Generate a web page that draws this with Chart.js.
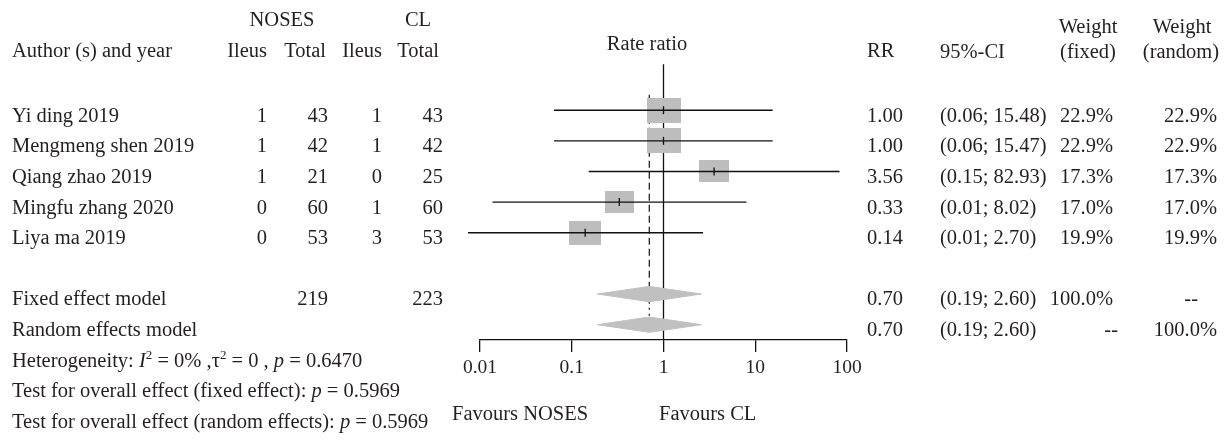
<!DOCTYPE html>
<html><head><meta charset="utf-8">
<script src="https://cdn.jsdelivr.net/npm/chart.js@4/dist/chart.umd.min.js"></script>
<style>html,body{margin:0;padding:0;background:#fff}#wrap{width:1230px;height:440px;position:relative}</style>
</head><body><div id="wrap"><canvas id="c"></canvas></div>
<script>
// ---------- data ----------
const studies = ['Yi ding 2019','Mengmeng shen 2019','Qiang zhao 2019','Mingfu zhang 2020','Liya ma 2019'];
const nosesIleus = [1,1,1,0,0];
const nosesTotal = [43,42,21,60,53];
const clIleus = [1,1,0,1,3];
const clTotal = [43,42,25,60,53];
const rr = [1.00,1.00,3.56,0.33,0.14];
const ciLow = [0.064,0.064,0.153,0.0137,0.0074];
const ciHigh = [15.48,15.47,82.93,8.02,2.70];
const weightFixed = [22.9,22.9,17.3,17.0,19.9];
const weightRandom = [22.9,22.9,17.3,17.0,19.9];
const pooledNames = ['Fixed effect model','Random effects model'];
const pooledRR = [0.70,0.70];
const pooledLow = [0.19,0.19];
const pooledHigh = [2.60,2.60];
const pooledWFixed = ['100.0%','--'];
const pooledWRandom = ['--','100.0%'];
const totalNoses = 219;
const totalCL = 223;
const hetI2 = '0%';
const hetTau2 = '0';
const hetP = 0.6470;
const pFixed = 0.5969;
const pRandom = 0.5969;
const tickValues = [0.01,0.1,1,10,100];

// ---------- layout / style ----------
const TXT = '#231f20';
const F = '20.5px "Liberation Serif"';
const FI = 'italic 20.5px "Liberation Serif"';
const FS = '13px "Liberation Serif"';
const BOX = '#bdbdbd';
const DIA = '#c0c0c0';
const ROW_TOP = -3.4, ROW_BOTTOM = 7.5;
const TEXT_DY = 6;
const DIA_H = 0.25;
const COL = {name:12, ileus1:267, total1:328, ileus2:382, total2:443, rr:867, ci:940, wf:1113, wr:1217};

function boxCanvas(w){
  const c = document.createElement('canvas');
  c.width = Math.round(7.1*Math.sqrt(w));
  c.height = Math.round(5.3*Math.sqrt(w));
  const g = c.getContext('2d'); g.fillStyle = BOX; g.fillRect(0,0,c.width,c.height);
  return c;
}

const datasets = [];
// null-effect reference line
datasets.push({data:[{x:1,y:-1.5},{x:1,y:ROW_BOTTOM}], borderColor:'#111', borderWidth:1.3, pointRadius:0, clip:false, order:9});
// fixed effect (dashed) and random effect (dotted) lines
datasets.push({data:[{x:pooledRR[0],y:-0.5},{x:pooledRR[0],y:studies.length+1-DIA_H}], borderColor:'#111', borderWidth:1.2, borderDash:[7,4], pointRadius:0, order:8});
datasets.push({data:[{x:pooledRR[1],y:studies.length+1+DIA_H},{x:pooledRR[1],y:studies.length+2-DIA_H}], borderColor:'#111', borderWidth:1.2, borderDash:[2,4], pointRadius:0, order:8});
// boxes
datasets.push({data:rr.map((v,i)=>({x:v,y:i})), showLine:false, pointStyle:weightFixed.map(boxCanvas), pointRadius:5, order:6});
// diamonds
pooledRR.forEach((v,k)=>{
  const r = studies.length+1+k;
  datasets.push({data:[{x:pooledLow[k],y:r},{x:v,y:r-DIA_H},{x:pooledHigh[k],y:r},{x:v,y:r+DIA_H},{x:pooledLow[k],y:r}],
    borderColor:DIA, borderWidth:1, backgroundColor:DIA, fill:'shape', pointRadius:0, tension:0, order:6});
});
// CI lines
rr.forEach((v,i)=>{
  datasets.push({data:[{x:ciLow[i],y:i},{x:ciHigh[i],y:i}], borderColor:'#111', borderWidth:1.4, pointRadius:0, clip:false, order:4});
});
// estimate ticks
datasets.push({data:rr.map((v,i)=>({x:v,y:i})), showLine:false, pointStyle:'line', rotation:90, pointRadius:4, borderColor:'#111', borderWidth:1.3, order:2});

function txt(ctx,s,x,y,align){ctx.font=F;ctx.textAlign=align||'left';ctx.textBaseline='middle';ctx.fillStyle=TXT;ctx.fillText(s,x,y);}
function rich(ctx,segs,x,y){
  let cx=x; ctx.textBaseline='middle'; ctx.textAlign='left'; ctx.fillStyle=TXT;
  segs.forEach(s=>{ctx.font=s.i?FI:(s.sup?FS:F); ctx.fillText(s.t,cx,y+(s.sup?-6:0)); cx+=ctx.measureText(s.t).width;});
}

const textPlugin = {
  id:'forestText',
  afterDraw(chart){
    const ctx = chart.ctx, ys = chart.scales.y;
    const ry = r => ys.getPixelForValue(r) + TEXT_DY;
    ctx.save();
    // headers
    txt(ctx,'NOSES',282,21,'center'); txt(ctx,'CL',418,21,'center');
    txt(ctx,'Author (s) and year',COL.name,52);
    txt(ctx,'Ileus',COL.ileus1,52,'right'); txt(ctx,'Total',326,52,'right');
    txt(ctx,'Ileus',COL.ileus2,52,'right'); txt(ctx,'Total',439,52,'right');
    txt(ctx,'Rate ratio',647,45,'center');
    txt(ctx,'RR',COL.rr,52); txt(ctx,'95%-CI',COL.ci,53);
    txt(ctx,'Weight',1088,28,'center'); txt(ctx,'(fixed)',1088,53,'center');
    txt(ctx,'Weight',1182,28,'center'); txt(ctx,'(random)',1181,53,'center');
    // studies
    studies.forEach((s,i)=>{
      const y = ry(i);
      txt(ctx,s,COL.name,y);
      txt(ctx,String(nosesIleus[i]),COL.ileus1,y,'right');
      txt(ctx,String(nosesTotal[i]),COL.total1,y,'right');
      txt(ctx,String(clIleus[i]),COL.ileus2,y,'right');
      txt(ctx,String(clTotal[i]),COL.total2,y,'right');
      txt(ctx,rr[i].toFixed(2),COL.rr,y);
      txt(ctx,'('+ciLow[i].toFixed(2)+'; '+ciHigh[i].toFixed(2)+')',COL.ci,y);
      txt(ctx,weightFixed[i].toFixed(1)+'%',COL.wf,y,'right');
      txt(ctx,weightRandom[i].toFixed(1)+'%',COL.wr,y,'right');
    });
    // pooled
    pooledNames.forEach((s,k)=>{
      const y = ry(studies.length+1+k);
      txt(ctx,s,COL.name,y);
      if(k===0){ txt(ctx,String(totalNoses),COL.total1,y,'right'); txt(ctx,String(totalCL),COL.total2,y,'right'); }
      txt(ctx,pooledRR[k].toFixed(2),COL.rr,y);
      txt(ctx,'('+pooledLow[k].toFixed(2)+'; '+pooledHigh[k].toFixed(2)+')',COL.ci,y);
      txt(ctx,pooledWFixed[k],pooledWFixed[k]==='--'?1118:COL.wf,y,'right');
      txt(ctx,pooledWRandom[k],pooledWRandom[k]==='--'?1198:COL.wr,y,'right');
    });
    // footer
    rich(ctx,[{t:'Heterogeneity: '},{t:'I',i:true},{t:'2',sup:true},{t:' = '+hetI2+' ,'},{t:'τ'},{t:'2',sup:true},{t:' = '+hetTau2+' , '},{t:'p',i:true},{t:' = '+hetP.toFixed(4)}],COL.name,ry(8));
    rich(ctx,[{t:'Test for overall effect (fixed effect): '},{t:'p',i:true},{t:' = '+pFixed.toFixed(4)}],COL.name,ry(9));
    rich(ctx,[{t:'Test for overall effect (random effects): '},{t:'p',i:true},{t:' = '+pRandom.toFixed(4)}],COL.name,ry(10));
    txt(ctx,'Favours NOSES',452,415); txt(ctx,'Favours CL',659,415);
    ctx.restore();
  }
};

new Chart(document.getElementById('c'),{
  type:'line',
  data:{datasets},
  options:{
    responsive:true, maintainAspectRatio:false, animation:false, events:[],
    layout:{padding:{left:480,right:383,top:0,bottom:0}},
    plugins:{legend:{display:false},tooltip:{enabled:false}},
    elements:{line:{tension:0}},
    scales:{
      x:{type:'logarithmic',min:0.01,max:100,position:'bottom',
        afterBuildTicks:s=>{s.ticks=tickValues.map(v=>({value:v}));},
        afterFit:s=>{s.height=100;},
        ticks:{autoSkip:false,maxRotation:0,minRotation:0,padding:4,color:TXT,font:{family:'Liberation Serif',size:19.5},callback:v=>String(v)},
        grid:{drawOnChartArea:false,drawTicks:true,tickLength:12,color:'#111',lineWidth:1.3},
        border:{display:true,color:'#111',width:1.3}
      },
      y:{type:'linear',reverse:true,min:ROW_TOP,max:ROW_BOTTOM,display:false}
    }
  },
  plugins:[textPlugin]
});
</script></body></html>
